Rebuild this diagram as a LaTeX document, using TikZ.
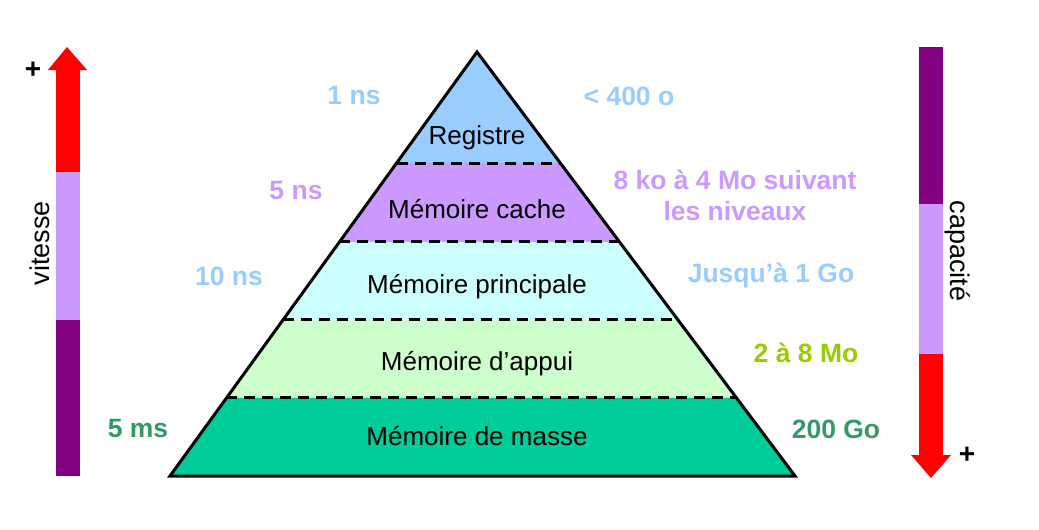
\documentclass[tikz,border=0pt]{standalone}
\usepackage{fontspec}
\setmainfont{Liberation Sans}
\usetikzlibrary{calc, positioning}

\definecolor{bleuclair}{HTML}{99CCFF}
\definecolor{mauve}{HTML}{CC99FF}
\definecolor{cyanpale}{HTML}{CCFFFF}
\definecolor{vertpale}{HTML}{CCFFCC}
\definecolor{vertmasse}{HTML}{00CC99}
\definecolor{vertolive}{HTML}{99CC00}
\definecolor{vertfonce}{HTML}{339966}
\definecolor{pourpre}{HTML}{800080}

\begin{document}
\begin{tikzpicture}[
    x=1pt, y=-1pt,
    niveau/.style={font=\fontsize{26}{30}\selectfont, text=black},
    info/.style={font=\fontsize{26.5}{31}\selectfont\bfseries, align=center},
    titre/.style={font=\fontsize{27}{30}\selectfont},
    separation/.style={line width=3pt, dash pattern=on 11pt off 7pt},
    contour/.style={line width=3pt, line join=miter}
]
    \useasboundingbox (0,0) rectangle (1039,530);

    % sommet et base de la pyramide
    \coordinate (A) at (477,52);
    \coordinate (BL) at (170,476);
    \coordinate (BR) at (795,476);
    \foreach \i/\t in {1/0.262, 2/0.448, 3/0.632, 4/0.816} {
        \coordinate (L\i) at ($(A)!\t!(BL)$);
        \coordinate (R\i) at ($(A)!\t!(BR)$);
    }

    % couches
    \fill[bleuclair] (A) -- (R1) -- (L1) -- cycle;
    \fill[mauve] (L1) -- (R1) -- (R2) -- (L2) -- cycle;
    \fill[cyanpale] (L2) -- (R2) -- (R3) -- (L3) -- cycle;
    \fill[vertpale] (L3) -- (R3) -- (R4) -- (L4) -- cycle;
    \fill[vertmasse] (L4) -- (R4) -- (BR) -- (BL) -- cycle;
    \foreach \i in {1,...,4}
        \draw[separation] (L\i) -- (R\i);
    \draw[contour] (A) -- (BR) -- (BL) -- cycle;

    \node (registre) [niveau] at (477,138) {Registre};
    \node (cache) [niveau] at (477,209) {Mémoire cache};
    \node (principale) [niveau] at (477,287) {Mémoire principale};
    \node (appui) [niveau] at (477,364) {Mémoire d’appui};
    \node (masse) [niveau] at (477,436) {Mémoire de masse};

    % temps d'acces
    \node (t1) [info, text=bleuclair] at (354,96) {1 ns};
    \node (t2) [info, text=mauve] at (296,191) {5 ns};
    \node (t3) [info, text=bleuclair] at (229,276) {10 ns};
    \node (t5) [info, text=vertfonce] at (138,429) {5 ms};

    % tailles
    \node (c1) [info, text=bleuclair] at (629,96) {< 400 o};
    \node (c2) [info, text=mauve] at (735,195) {8 ko à 4 Mo suivant\\les niveaux};
    \node (c3) [info, text=bleuclair] at (771,276) {Jusqu’à 1 Go};
    \node (c4) [info, text=vertolive] at (806,353) {2 à 8 Mo};
    \node (c5) [info, text=vertfonce] at (836,429) {200 Go};

    % fleche vitesse
    \fill[red] (56,70) rectangle (80,172);
    \fill[mauve] (56,172) rectangle (80,320);
    \fill[pourpre] (56,320) rectangle (80,476);
    \fill[red] (48,70) -- (67,47) -- (87,70) -- cycle;
    \node (vitesse) [titre, rotate=90] at (40,243) {vitesse};
    \node (plusv) [titre, font=\fontsize{28}{28}\selectfont\bfseries] at (33,70) {+};

    % fleche capacite
    \fill[pourpre] (919,47) rectangle (943,204);
    \fill[mauve] (919,204) rectangle (943,354);
    \fill[red] (919,354) rectangle (943,455);
    \fill[red] (911,455) -- (931,478) -- (951,455) -- cycle;
    \node (capacite) [titre, rotate=-90] at (958,251) {capacité};
    \node (plusc) [titre, font=\fontsize{28}{28}\selectfont\bfseries] at (967,455) {+};
\end{tikzpicture}
\end{document}
